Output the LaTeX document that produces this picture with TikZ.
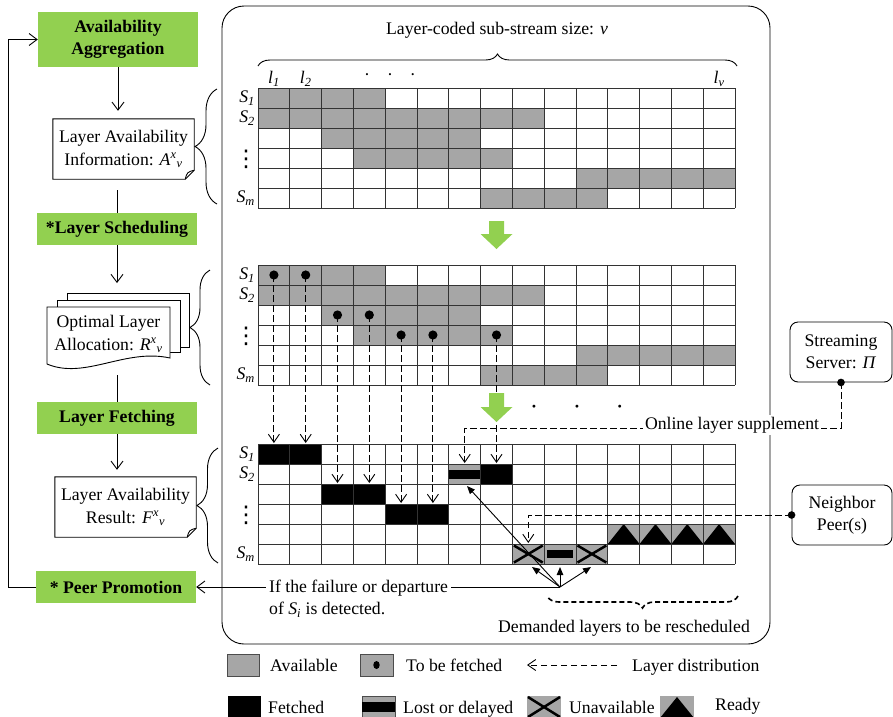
\documentclass[tikz,border=0pt]{standalone}
\usepackage{fontspec}
\setmainfont{Liberation Serif}
\newfontfamily\dejavu{DejaVu Sans}
\usetikzlibrary{arrows.meta,decorations.pathreplacing,calc}
\definecolor{cellgray}{RGB}{166,166,166}
\definecolor{lgreen}{RGB}{146,208,80}
\newcommand\sbx[2]{\textit{#1}\textsubscript{\textit{#2}}}
\newcommand\supsub[3]{\textit{#1}\textsuperscript{\textit{#2}}\textsubscript{\textit{#3}}}
\newcommand\gcell[4]{\fill[#1] ({258+31.8*#4},{#2+20*#3}) rectangle ({258+31.8*(#4+1)},{#2+20*(#3+1)});}
\newcommand\gspan[5]{\fill[#1] ({258+31.8*#4},{#2+20*#3}) rectangle ({258+31.8*(#5+1)},{#2+20*(#3+1)});}
\newcommand\glines[1]{%
  \foreach \i in {0,...,15}{\draw[gl] ({258+31.8*\i},#1) -- ({258+31.8*\i},{#1+120});}
  \foreach \j in {0,...,6}{\draw[gl] (258,{#1+20*\j}) -- (735,{#1+20*\j});}}
\newcommand\gpattern[1]{%
  \gspan{cellgray}{#1}{0}{0}{3}
  \gspan{cellgray}{#1}{1}{0}{8}
  \gspan{cellgray}{#1}{2}{2}{6}
  \gspan{cellgray}{#1}{3}{3}{7}
  \gspan{cellgray}{#1}{4}{10}{14}
  \gspan{cellgray}{#1}{5}{7}{10}}
\newcommand\rlabels[2]{%
  \node[lab,anchor=east] (S1#2) at (255,{#1+10}) {\sbx{S}{1}};
  \node[lab,anchor=east] (S2#2) at (255,{#1+30}) {\sbx{S}{2}};
  \node[lab] (Sd#2) at (246,{#1+71}) {\dejavu\fontsize{23}{23}\selectfont ⋮};
  \node[lab,anchor=east] (Sm#2) at (255,{#1+110}) {\sbx{S}{m}};}
\begin{document}
\begin{tikzpicture}[x=1pt,y=-1pt,font=\fontsize{17.7}{22.5}\selectfont,
  gl/.style={draw=black!80,line width=0.9pt},
  lab/.style={inner sep=0pt},
  greenbox/.style={fill=lgreen,minimum width=160pt,align=center,inner sep=0pt,font=\fontsize{17.7}{22.5}\selectfont\bfseries},
  docbox/.style={minimum width=141pt,minimum height=60pt,align=center,inner sep=0pt},
  ln/.style={line width=0.9pt},
  arr/.style={ln,-{Straight Barb[length=8pt,width=12pt]}},
  dist/.style={line width=0.9pt,dash pattern=on 6.5pt off 3.5pt,-{Straight Barb[length=8pt,width=11pt]}},
  sarr/.style={ln,-{Triangle[length=8pt,width=6.5pt]}},
  rbox/.style={draw,line width=0.9pt,rounded corners=8pt,minimum height=60pt,align=center,inner sep=0pt},
  brc/.style={decorate,decoration={brace,amplitude=#1},line width=0.9pt},
  leg/.style={inner sep=0pt,anchor=base west}]
\useasboundingbox (0,0) rectangle (893,716);

% main rounded frame
\draw[line width=0.9pt,rounded corners=22pt] (222,6) rectangle (770,644);

% title and top brace
\node[lab] (title) at (497,30) {Layer-coded sub-stream size: \textit{v}};
\draw[brc=12pt] (258,66) -- (737,66);
\node[lab] (l1) at (273.9,79) {\sbx{l}{1}};
\node[lab] (l2) at (305.7,79) {\sbx{l}{2}};
\node[lab] (ldots) at (390,77) {·\hspace{17pt}·\hspace{17pt}·};
\node[lab] (lv) at (719.1,79) {\sbx{l}{v}};

% grid 1 and grid 2
\gpattern{88} \glines{88} \rlabels{88}{a}
\gpattern{265} \glines{265} \rlabels{265}{b}

% grid 3
\gspan{black}{444}{0}{0}{1}
\gspan{black}{444}{1}{7}{7}
\gspan{black}{444}{2}{2}{3}
\gspan{black}{444}{3}{4}{5}
\gcell{cellgray}{444}{1}{6}
\fill (448.8,469.5) rectangle (480.6,478.5);
\gspan{cellgray}{444}{5}{8}{10}
\fill (547.2,550) rectangle (573,558);
\gspan{cellgray}{444}{4}{11}{14}
\foreach \c in {11,...,14}{\fill ({258+31.8*\c},544) -- ({258+31.8*(\c+0.5)},524) -- ({258+31.8*(\c+1)},544) -- cycle;}
\glines{444}
\foreach \c in {8,10}{\draw[line width=2.5pt] ({258+31.8*\c+1.5},545.5) -- ({258+31.8*(\c+1)-1.5},562.5) ({258+31.8*\c+1.5},562.5) -- ({258+31.8*(\c+1)-1.5},545.5);}
\rlabels{444}{c}

% layer distribution (dashed) from grid 2 to grid 3
\foreach \c/\r/\t [count=\k] in {0/0/443,1/0/443,2/2/483,3/2/483,4/3/503,5/3/503,7/3/463}{
  \coordinate (f\k) at ({258+31.8*(\c+0.5)},{275+20*\r});
  \coordinate (g\k) at ({258+31.8*(\c+0.5)},\t);
  \draw[dist] (f\k) -- (g\k);}
\foreach \k in {1,...,7}{\fill (f\k) circle[radius=4.6pt];}

% green block arrows
\fill[lgreen] (489,221) -- (504,221) -- (504,234) -- (512.5,234) -- (496.5,249) -- (480.5,234) -- (489,234) -- cycle;
\fill[lgreen] (489,393) -- (504,393) -- (504,407) -- (512.5,407) -- (496.5,422) -- (480.5,407) -- (489,407) -- cycle;
\node[lab] (mdots) at (577,409) {\textbf{·}\hspace{37pt}\textbf{·}\hspace{37pt}\textbf{·}};

% server and neighbours
\node[rbox,minimum width=102pt] (srv) at (841,352) {Streaming\\Server: \textit{Π}};
\node[rbox,minimum width=100pt] (nb) at (842,515) {Neighbor\\Peer(s)};
\coordinate (supC) at (464.7,428);
\coordinate (supT) at (464.7,463);
\draw[dist] (srv.south) |- (supC) -- (supT);
\fill (srv.south) circle[radius=3.8pt];
\node[fill=white,inner sep=2pt] (sup) at (732,425) {Online layer supplement};
\coordinate (nbT) at (528.3,543);
\draw[dist] (nb.west) -| (nbT);
\fill (nb.west) circle[radius=3.8pt];

% left column
\node[greenbox,minimum height=55pt] (agg) at (118,39.5) {Availability\\Aggregation};
\node[docbox] (info) at (123.5,149) {Layer Availability\\Information: \supsub{A}{x}{v}};
\draw[ln] (info.north west) -- (info.north east) -- ([yshift=9pt]info.south east) -- ([xshift=-9pt]info.south east) -- (info.south west) -- cycle;
\draw[ln] ([xshift=-9pt]info.south east) .. controls ([xshift=-7pt,yshift=7pt]info.south east) .. ([yshift=9pt]info.south east);
\node[greenbox,minimum height=32pt] (sched) at (117,229) {*Layer Scheduling};
\filldraw[fill=white,ln] (67,293) rectangle (189,347);
\filldraw[fill=white,ln] (57,300) rectangle (180,352);
\filldraw[fill=white,ln] (47,307) -- (170,307) -- (170,358) .. controls (125,348) and (85,380) .. (47,364) -- cycle;
\node[lab,align=center] (alloc) at (108.5,334) {Optimal Layer\\Allocation: \supsub{R}{x}{v}};
\coordinate (allocTop) at (117,293);
\coordinate (allocBot) at (117,375);
\node[greenbox,minimum height=32pt] (fetch) at (117,418) {Layer Fetching};
\node[docbox] (result) at (125.5,507) {Layer Availability\\Result: \supsub{F}{x}{v}};
\draw[ln] (result.north west) -- (result.north east) -- ([yshift=9pt]result.south east) -- ([xshift=-9pt]result.south east) -- (result.south west) -- cycle;
\draw[ln] ([xshift=-9pt]result.south east) .. controls ([xshift=-7pt,yshift=7pt]result.south east) .. ([yshift=9pt]result.south east);
\node[greenbox,minimum height=32pt] (promo) at (116,587) {* Peer Promotion};

\draw[arr,shorten >=8pt] (agg.south) -- (agg.south |- info.north);
\draw[ln,shorten <=11pt] (sched.north |- info.south) -- (sched.north);
\draw[arr,shorten >=10pt] (sched.south) -- (allocTop);
\draw[ln] (allocBot) -- (fetch.north);
\draw[arr,shorten >=7pt] (fetch.south) -- (fetch.south |- result.north);
\draw[arr] (promo.west) -- ++(-27,0) |- (agg.west);

% braces on the left
\draw[brc=22pt] (217,204) -- (217,89);
\draw[brc=20pt] (210,385) -- (210,270);
\draw[brc=21pt] (218,563) -- (218,448);

% failure detection
\coordinate (conv) at (560,587);
\coordinate (xa) at (532,567);
\coordinate (xb) at (560,567);
\coordinate (xc) at (591,567);
\coordinate (lostT) at (467,486);
\foreach \t in {xa,xb,xc,lostT}{\draw[sarr] (conv) -- (\t);}
\draw[arr] (conv) -- (conv -| promo.east);
\node[fill=white,align=left,anchor=west,inner sep=3pt] (fail) at (266,598.5) {If the failure or departure\\of \sbx{S}{i} is detected.};
\draw[brc=12pt,line width=1.6pt,dash pattern=on 5pt off 3pt] (738,596) -- (547,596);
\node[lab] (dem) at (624,628) {Demanded layers to be rescheduled};

% legend
\filldraw[fill=cellgray,draw=black!70,line width=0.8pt] (227,654) rectangle (259,676);
\node[leg] (lgAv) at (270,671) {Available};
\filldraw[fill=cellgray,draw=black!70,line width=0.8pt] (360,654) rectangle (393,676);
\fill (376.5,665) ellipse[x radius=3.2pt,y radius=4pt];
\node[leg] (lgTb) at (406,671) {To be fetched};
\coordinate (lgA1) at (617,665);
\coordinate (lgA2) at (527,665);
\draw[dist] (lgA1) -- (lgA2);
\node[leg] (lgLd) at (632,671) {Layer distribution};
\fill (228,696) rectangle (261,718);
\node[leg] (lgFe) at (268,713) {Fetched};
\filldraw[fill=cellgray,draw=black!70,line width=0.8pt] (362,696) rectangle (395,718);
\fill (362,702) rectangle (395,712);
\node[leg] (lgLo) at (403,713) {Lost or delayed};
\fill[cellgray] (527,696) rectangle (561,718);
\draw[line width=2.5pt] (528,697) -- (560,717) (528,717) -- (560,697);
\node[leg] (lgUn) at (569,713) {Unavailable};
\fill[cellgray] (660,696) rectangle (694,718);
\fill (660,718) -- (677,697) -- (694,718) -- cycle;
\node[leg] (lgRe) at (715,710) {Ready};
\end{tikzpicture}
\end{document}
